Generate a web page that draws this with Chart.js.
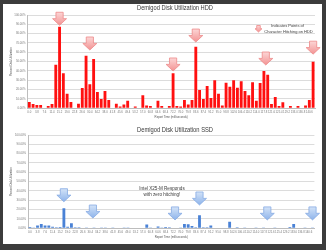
<!DOCTYPE html>
<html>
<head>
<meta charset="utf-8">
<script src="https://cdn.jsdelivr.net/npm/chart.js@4.4.0/dist/chart.umd.min.js"></script>
<style>
  html, body { margin: 0; padding: 0; width: 326px; height: 250px; overflow: hidden; background: #3c3c3c; }
  #frame { position: absolute; left: 3px; top: 4px; width: 319px; height: 240px; background: #fff; }
  .box { position: absolute; left: 0; width: 326px; height: 122px; }
</style>
</head>
<body>
<div id="frame"></div>
<div class="box" style="top:0"><canvas id="hdd" width="326" height="122"></canvas></div>
<div class="box" style="top:120px"><canvas id="ssd" width="326" height="122"></canvas></div>
<script>
// report time labels (only every other one is shown)
var timeLabels = ['0.0','1.9','3.8','5.7','7.6','9.5','11.4','13.3','15.2','17.1',
  '19.0','20.9','22.8','24.7','26.6','28.5','30.4','32.3','34.2','36.1',
  '38.0','39.9','41.8','43.7','45.6','47.5','49.4','51.3','53.2','55.1',
  '57.0','58.9','60.8','62.7','64.6','66.5','68.4','70.3','72.2','74.1',
  '76.0','77.9','79.8','81.7','83.6','85.5','87.4','89.3','91.2','93.1',
  '95.0','96.9','98.8','100.7','102.6','104.5','106.4','108.3','110.2','112.1',
  '114.0','115.9','117.8','119.7','121.6','123.5','125.4','127.3','129.2','131.1',
  '133.0','134.9','136.8','138.7','140.6','142.5'];

// percent disk utilization
var hddUtil = [6.8, 4.6, 3.6, 3.6, 0, 2.5, 4.6, 46.8, 87.5, 37.5,
  15.7, 6.8, 0, 5, 21.8, 56.4, 25.7, 52.9, 17.5, 10,
  18.6, 8.9, 0, 5, 2, 4, 8, 0, 2, 0,
  14, 3, 2.5, 0, 8, 2.5, 0, 2.5, 37.5, 2.5,
  1.8, 9, 4, 9, 66, 19.6, 10, 24, 11, 30,
  15.7, 3, 27.5, 23, 30, 22, 29, 18.6, 14, 28,
  8, 27, 40, 36, 4.6, 12, 2.5, 6.4, 0, 2.5,
  0, 2.5, 0, 2.9, 9, 50];

var ssdUtil = [1.4, 0.8, 3.0, 4.5, 3.0, 3.0, 1.6, 1.1, 1.4, 21.4,
  1.6, 5.4, 1.1, 1.1, 0.7, 0.4, 0, 0.3, 0, 0.4,
  0.3, 0, 0.3, 0, 0.5, 0.8, 0.8, 0, 0.6, 0.6,
  0, 4, 0.3, 0, 1.8, 0.3, 1.4, 1.2, 0.6, 0,
  0.4, 4.5, 4.3, 2.5, 1, 14, 1, 1, 2.9, 0,
  0, 0, 0, 7, 0, 1, 0, 0.3, 0, 0,
  0.3, 0, 0.8, 0, 0, 0.4, 0.6, 0, 0, 1.4,
  4.6, 0, 0, 0.3, 0, 0.3];

// arrow callouts: [category index, value at arrow tip]
var hddArrows = [[8, 89], [16, 62.5], [38, 40], [44, 71], [62.5, 46.4], [75, 58]];
var ssdArrows = [[9, 28.5], [16.7, 11], [38.5, 9], [45, 25], [63, 9], [75, 9]];

function arrow(ctx, px, py, s, c1, c2, line) {
  var g = ctx.createLinearGradient(0, py - 13 * s, 0, py);
  g.addColorStop(0, c1);
  g.addColorStop(1, c2);
  ctx.beginPath();
  ctx.moveTo(px - 3.6 * s, py - 13 * s);
  ctx.lineTo(px + 3.6 * s, py - 13 * s);
  ctx.lineTo(px + 3.6 * s, py - 6.6 * s);
  ctx.lineTo(px + 7 * s, py - 6.6 * s);
  ctx.lineTo(px, py);
  ctx.lineTo(px - 7 * s, py - 6.6 * s);
  ctx.lineTo(px - 3.6 * s, py - 6.6 * s);
  ctx.closePath();
  ctx.fillStyle = g;
  ctx.fill();
  ctx.strokeStyle = line;
  ctx.lineWidth = 0.8;
  ctx.stroke();
}

var extras = {
  id: 'extras',
  afterDatasetsDraw: function(chart, args, o) {
    var ctx = chart.ctx, x = chart.scales.x, y = chart.scales.y;
    ctx.save();
    o.arrows.forEach(function(a) {
      arrow(ctx, x.getPixelForValue(a[0]), y.getPixelForValue(a[1]), 1, o.c1, o.c2, o.line);
    });
    if (o.legendArrow) arrow(ctx, o.legendArrow[0], o.legendArrow[1], 0.5, o.c1, o.c2, o.line);
    ctx.fillStyle = '#3a3a3a';
    ctx.textAlign = 'center';
    ctx.textBaseline = 'middle';
    ctx.font = '6.3px "Liberation Sans", Arial, sans-serif';
    ctx.fillText(o.title, 175, o.titleY, 76);
    o.notes.forEach(function(n) {
      ctx.font = n.size + 'px "Liberation Sans", Arial, sans-serif';
      ctx.fillText(n.text, n.x, n.y, n.w);
    });
    ctx.restore();
  }
};

function makeChart(id, values, color, opts, left, right) {
  return new Chart(document.getElementById(id), {
    type: 'bar',
    data: {
      labels: timeLabels,
      datasets: [{
        data: values,
        backgroundColor: color,
        barPercentage: 0.8,
        categoryPercentage: 0.94
      }]
    },
    options: {
      responsive: false,
      animation: false,
      layout: { padding: { left: 10, right: right, top: 15, bottom: 0 } },
      plugins: { legend: { display: false }, tooltip: { enabled: false }, extras: opts },
      scales: {
        x: {
          grid: { display: false, drawTicks: false },
          border: { display: true, color: '#bdbdbd' },
          ticks: {
            font: { size: 2.8 }, color: '#777', autoSkip: false, maxRotation: 0, padding: 2,
            callback: function(v, i) { return i % 2 === 0 ? this.getLabelForValue(v) : ''; }
          },
          title: { display: true, text: 'Report Time (milliseconds)', font: { size: 2.8 }, color: '#555', padding: { top: 0, bottom: 3 } },
          afterFit: function(s) { s.height = 122 - 108.3; }
        },
        y: {
          min: 0,
          max: 100,
          grid: { color: '#dcdcdc', drawTicks: false },
          border: { display: true, color: '#bdbdbd' },
          ticks: {
            stepSize: 10, font: { size: 2.8 }, color: '#777', padding: 2,
            callback: function(v) { return v.toFixed(2) + '%'; }
          },
          title: { display: true, text: 'Percent Disk Utilization', font: { size: 2.8 }, color: '#555', padding: { top: 0, bottom: 0 } },
          afterFit: function(s) { s.width = left - 10; }
        }
      }
    },
    plugins: [extras]
  });
}

makeChart('hdd', hddUtil, '#ff1010', {
  arrows: hddArrows, c1: '#fcd6d6', c2: '#f39393', line: '#ee8a8a',
  legendArrow: [258.5, 32],
  title: 'Demigod Disk Utilization HDD', titleY: 8,
  notes: [
    { text: 'Indicates Points of', x: 287.5, y: 26, size: 4, w: 33 },
    { text: 'Character Hitching on HDD', x: 288.5, y: 31.5, size: 4, w: 51 }
  ]
}, 27.4, 11);

makeChart('ssd', ssdUtil, '#4a82d6', {
  arrows: ssdArrows, c1: '#d3e3f8', c2: '#8db3ea', line: '#86abe3',
  title: 'Demigod Disk Utilization SSD', titleY: 10,
  notes: [
    { text: 'Intel X25-M Responds', x: 162, y: 69, size: 4.6, w: 51 },
    { text: 'with zero hitching!', x: 162, y: 75, size: 4.6, w: 37 }
  ]
}, 28.1, 11.6);
</script>
</body>
</html>
